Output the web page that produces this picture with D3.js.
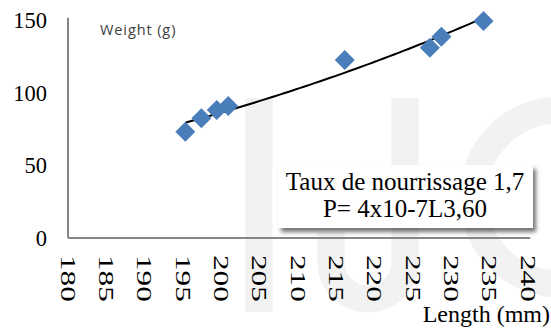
<!DOCTYPE html>
<html>
<head>
<meta charset="utf-8">
<script src="https://cdn.jsdelivr.net/npm/d3@7"></script>
<style>
  html, body { margin: 0; padding: 0; background: #fff; }
  svg { display: block; }
</style>
</head>
<body>
<svg id="chart" width="551" height="328"></svg>
<script>
// Fish length (mm) and body weight (g)
const lengths = [195.3, 197.4, 199.4, 200.9, 216.1, 227.2, 228.7, 234.2];
const weights = [73.1, 82.4, 88.1, 90.8, 122.5, 130.9, 138.5, 149.3];
const xTicks = [180, 185, 190, 195, 200, 205, 210, 215, 220, 225, 230, 235, 240];
const yTicks = [0, 50, 100, 150];
const boxLines = ["Taux de nourrissage 1,7", "P= 4x10-7L3,60"];

const W = 551, H = 328;
const margin = { left: 68, top: 20, right: 23, bottom: 90 };
const svg = d3.select("#chart");

const x = d3.scaleLinear().domain([180, 240]).range([margin.left, W - margin.right]);
const y = d3.scaleLinear().domain([0, 150]).range([H - margin.bottom, margin.top]);

// faint background watermark
const wm = svg.append("g").attr("fill", "none").attr("stroke", "#f2f2f2").attr("stroke-width", 27);
wm.append("path").attr("d", "M259,98 V312");
wm.append("path").attr("d", "M405,98 V262 A37,37 0 0 1 331,262 V232");
wm.append("path").attr("d", "M560,110 A87,87 0 1 0 560,284");

// axes (lines only, no tick marks)
const axisColor = "#868686";
svg.append("line")
  .attr("x1", x(180)).attr("x2", x(180))
  .attr("y1", y(0)).attr("y2", y(151.5))
  .attr("stroke", axisColor).attr("stroke-width", 2);
svg.append("line")
  .attr("x1", x(180)).attr("x2", x(240.3))
  .attr("y1", y(0)).attr("y2", y(0))
  .attr("stroke", axisColor).attr("stroke-width", 2);

// y tick labels
svg.append("g").selectAll("text").data(yTicks).join("text")
  .attr("x", 47).attr("y", d => y(d)).attr("dy", "0.35em")
  .attr("text-anchor", "end")
  .attr("font-family", "'Liberation Serif', 'Times New Roman', serif")
  .attr("font-size", 22.5).attr("fill", "#000")
  .text(d => d);

// x tick labels, rotated to read downward
svg.append("g").selectAll("text").data(xTicks).join("text")
  .attr("transform", d => `translate(${x(d)},255) rotate(90) scale(1.42,1)`)
  .attr("dy", "0.34em")
  .attr("text-anchor", "start")
  .attr("font-family", "'Liberation Serif', 'Times New Roman', serif")
  .attr("font-size", 22).attr("fill", "#000")
  .text(d => d);

// axis titles
svg.append("text")
  .attr("x", 100).attr("y", 35)
  .attr("font-family", "'Open Sans', 'DejaVu Sans', sans-serif")
  .attr("font-size", 14.5).attr("letter-spacing", 0.9).attr("fill", "#404040")
  .text("Weight (g)");
svg.append("text")
  .attr("x", 550).attr("y", 322)
  .attr("text-anchor", "end")
  .attr("font-family", "'Liberation Serif', 'Times New Roman', serif")
  .attr("font-size", 24).attr("fill", "#000")
  .text("Length (mm)");

// power trend line W = a * L^b, least squares in log space
const lx = lengths.map(Math.log), ly = weights.map(Math.log);
const mx = d3.mean(lx), my = d3.mean(ly);
const b = d3.sum(lx, (v, i) => (v - mx) * (ly[i] - my)) / d3.sum(lx, v => (v - mx) ** 2);
const lnA = my - b * mx;
const [x0, x1] = d3.extent(lengths);
const trend = d3.range(0, 61).map(i => {
  const L = x0 + (x1 - x0) * i / 60;
  return [L, Math.exp(lnA + b * Math.log(L))];
});
svg.append("path")
  .datum(trend)
  .attr("fill", "none").attr("stroke", "#000").attr("stroke-width", 2)
  .attr("d", d3.line().x(d => x(d[0])).y(d => y(d[1])));

// diamond markers
const diamond = d3.symbol().type(d3.symbolSquare).size(200);
svg.append("g").selectAll("path").data(lengths).join("path")
  .attr("transform", (d, i) => `translate(${x(d)},${y(weights[i])}) rotate(45)`)
  .attr("d", diamond)
  .attr("fill", "#4a7ebb");

// equation text box with soft shadow
const defs = svg.append("defs");
const f = defs.append("filter").attr("id", "shadow")
  .attr("x", "-10%").attr("y", "-20%").attr("width", "130%").attr("height", "160%");
f.append("feDropShadow").attr("dx", 3).attr("dy", 4).attr("stdDeviation", 2)
  .attr("flood-color", "#000").attr("flood-opacity", 0.55);

const box = svg.append("g").attr("transform", "translate(278,165)");
box.append("rect").attr("width", 255).attr("height", 63)
  .attr("fill", "#fff").attr("filter", "url(#shadow)");
box.selectAll("text").data(boxLines).join("text")
  .attr("x", 127).attr("y", (d, i) => 25 + i * 27)
  .attr("text-anchor", "middle")
  .attr("font-family", "'Liberation Serif', 'Times New Roman', serif")
  .attr("font-size", 25).attr("fill", "#000")
  .text(d => d);
</script>
</body>
</html>
